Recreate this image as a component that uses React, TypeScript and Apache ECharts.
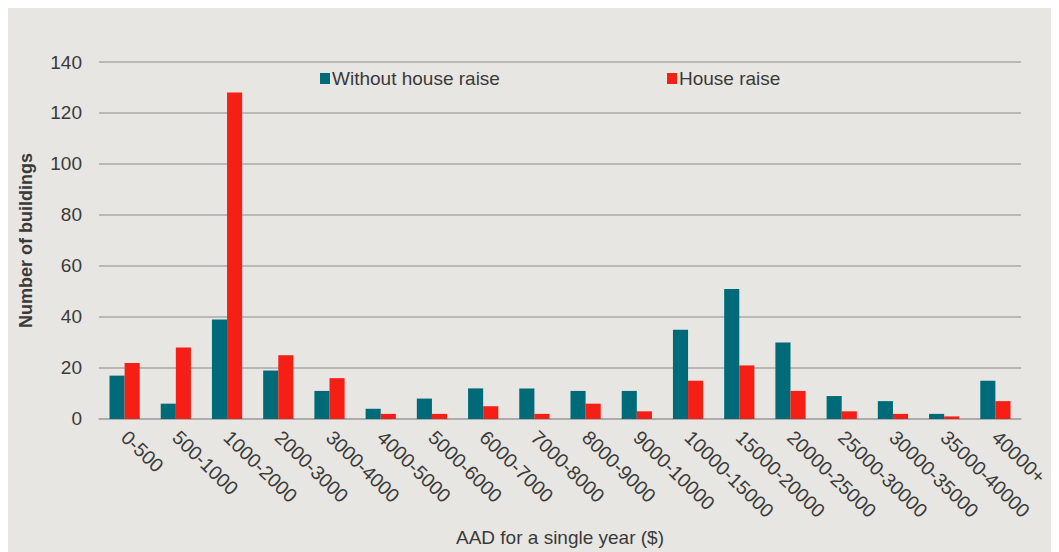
import React, { useEffect, useRef } from "react";
import * as echarts from "echarts";

const categories = [
  "0-500", "500-1000", "1000-2000", "2000-3000", "3000-4000", "4000-5000",
  "5000-6000", "6000-7000", "7000-8000", "8000-9000", "9000-10000",
  "10000-15000", "15000-20000", "20000-25000", "25000-30000", "30000-35000",
  "35000-40000", "40000+",
];
const withoutRaise = [17, 6, 39, 19, 11, 4, 8, 12, 12, 11, 11, 35, 51, 30, 9, 7, 2, 15];
const houseRaise = [22, 28, 128, 25, 16, 2, 2, 5, 2, 6, 3, 15, 21, 11, 3, 2, 1, 7];
const seriesNames = ["Without house raise", "House raise"];
const yTicks = { min: 0, max: 140, interval: 20 };

const FONT = "Arial, 'Liberation Sans', sans-serif";
const TEXT = "#3a3a3a";

export default function App() {
  const ref = useRef<HTMLDivElement>(null);
  useEffect(() => {
    if (!ref.current) return;
    const chart = echarts.init(ref.current, undefined, { renderer: "svg" });
    chart.setOption({
      animation: false,
      backgroundColor: "#e8e6e2",
      textStyle: { fontFamily: FONT },
      legend: [
        {
          data: [seriesNames[0]],
          left: 307,
          top: 56,
          itemWidth: 10,
          itemHeight: 11,
          itemGap: 0,
          icon: "rect",
          textStyle: { fontSize: 19, color: TEXT, fontFamily: FONT, padding: [0, 0, 0, -3] },
        },
        {
          data: [seriesNames[1]],
          left: 654,
          top: 56,
          itemWidth: 10,
          itemHeight: 11,
          icon: "rect",
          textStyle: { fontSize: 19, color: TEXT, fontFamily: FONT, padding: [0, 0, 0, -3] },
        },
      ],
      grid: { left: 91, right: 38, top: 54, bottom: 132, containLabel: false },
      xAxis: {
        type: "category",
        data: categories,
        name: "AAD for a single year ($)",
        nameLocation: "middle",
        nameGap: 100,
        nameTextStyle: { fontSize: 19, color: TEXT, fontFamily: FONT, verticalAlign: "top" },
        axisLine: { lineStyle: { color: "#a9a9a9", width: 1.5 } },
        axisTick: { show: false },
        axisLabel: {
          rotate: -44,
          margin: 15,
          fontSize: 19.5,
          color: TEXT,
          fontFamily: FONT,
          interval: 0,
        },
      },
      yAxis: {
        type: "value",
        min: yTicks.min,
        max: yTicks.max,
        interval: yTicks.interval,
        name: "Number of buildings",
        nameLocation: "middle",
        nameGap: 64,
        nameTextStyle: { fontSize: 18, fontWeight: "bold", color: TEXT, fontFamily: FONT },
        axisLine: { show: false },
        axisTick: { show: false },
        axisLabel: { fontSize: 19, color: TEXT, fontFamily: FONT, margin: 17 },
        splitLine: { lineStyle: { color: "#a9a9a9", width: 1.5 } },
      },
      series: [
        {
          name: seriesNames[0],
          type: "bar",
          data: withoutRaise,
          itemStyle: { color: "#006b78" },
          barGap: "0%",
          barCategoryGap: "41%",
        },
        {
          name: seriesNames[1],
          type: "bar",
          data: houseRaise,
          itemStyle: { color: "#f51f16" },
        },
      ],
    });
    return () => chart.dispose();
  }, []);
  return <div ref={ref} style={{ width: 1051, height: 544 }} />;
}
